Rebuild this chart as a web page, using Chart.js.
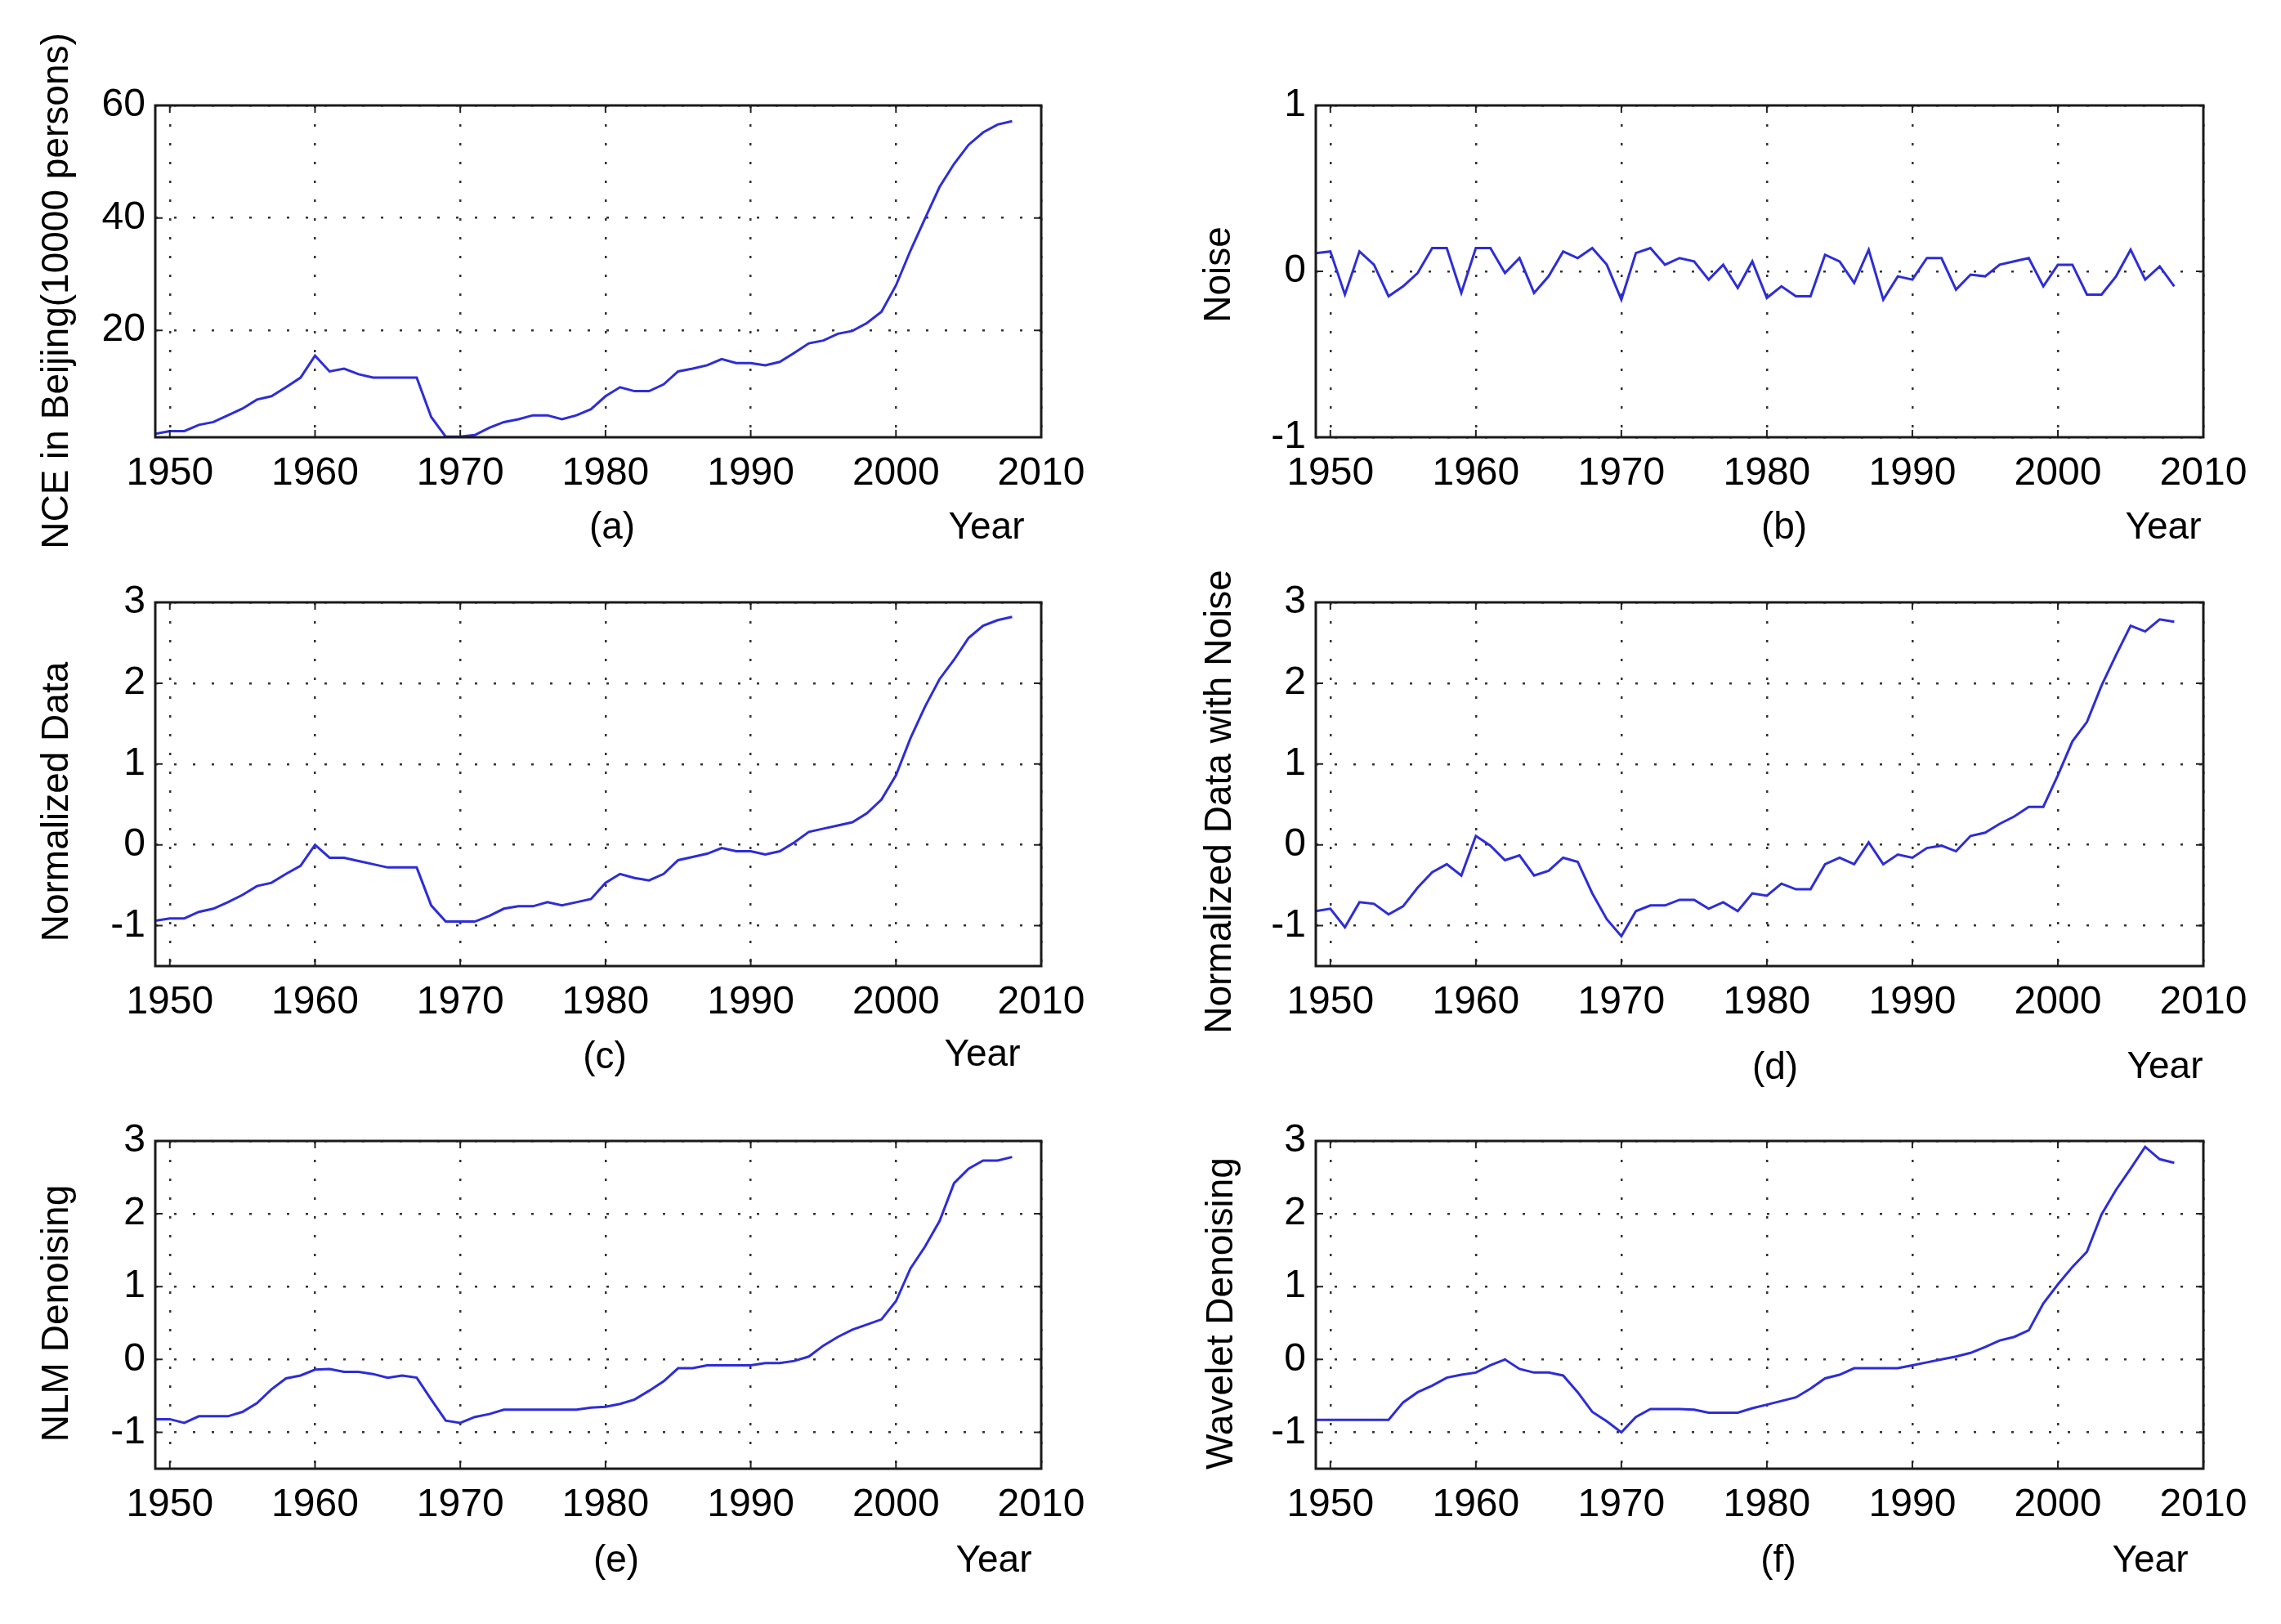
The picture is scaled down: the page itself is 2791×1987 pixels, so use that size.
<!DOCTYPE html>
<html lang="en">
<head>
<meta charset="UTF-8">
<title>NCE in Beijing - denoising</title>
<script src="https://cdn.jsdelivr.net/npm/chart.js@4.4.1/dist/chart.umd.min.js"></script>
<style>
  html, body { margin: 0; padding: 0; background: #fff; }
  #page { position: relative; width: 2791px; height: 1987px; }
  canvas { position: absolute; }
</style>
</head>
<body>
<div id="page">
  <canvas id="pa" width="1400" height="680" style="left:0;top:0"></canvas>
  <canvas id="pb" width="1391" height="680" style="left:1400px;top:0"></canvas>
  <canvas id="pc" width="1400" height="650" style="left:0;top:680px"></canvas>
  <canvas id="pd" width="1391" height="650" style="left:1400px;top:680px"></canvas>
  <canvas id="pe" width="1400" height="657" style="left:0;top:1330px"></canvas>
  <canvas id="pf" width="1391" height="657" style="left:1400px;top:1330px"></canvas>
</div>
<script>
const years = [1949, 1950, 1951, 1952, 1953, 1954, 1955, 1956, 1957, 1958,
               1959, 1960, 1961, 1962, 1963, 1964, 1965, 1966, 1967, 1968,
               1969, 1970, 1971, 1972, 1973, 1974, 1975, 1976, 1977, 1978,
               1979, 1980, 1981, 1982, 1983, 1984, 1985, 1986, 1987, 1988,
               1989, 1990, 1991, 1992, 1993, 1994, 1995, 1996, 1997, 1998,
               1999, 2000, 2001, 2002, 2003, 2004, 2005, 2006, 2007, 2008];

// (a) NCE in Beijing, 10000 persons
const nce = [1.6, 2.1, 2.1, 3.2, 3.7, 4.9, 6.1, 7.7, 8.3, 9.9,
             11.6, 15.5, 12.7, 13.2, 12.2, 11.6, 11.6, 11.6, 11.6, 4.6,
             1.1, 1.1, 1.4, 2.7, 3.7, 4.2, 4.9, 4.9, 4.2, 4.9,
             6.0, 8.3, 9.9, 9.2, 9.2, 10.4, 12.7, 13.2, 13.8, 14.9,
             14.2, 14.2, 13.8, 14.4, 16.0, 17.7, 18.2, 19.4, 19.9, 21.3,
             23.3, 28.0, 34.2, 39.9, 45.5, 49.6, 53.0, 55.2, 56.6, 57.2];

// (b) noise
const noise = [0.11, 0.12, -0.14, 0.12, 0.04, -0.15, -0.09, -0.01, 0.14, 0.14,
               -0.13, 0.14, 0.14, -0.01, 0.08, -0.13, -0.03, 0.12, 0.08, 0.14,
               0.04, -0.17, 0.11, 0.14, 0.04, 0.08, 0.06, -0.05, 0.04, -0.10,
               0.06, -0.16, -0.09, -0.15, -0.15, 0.10, 0.06, -0.07, 0.13, -0.17,
               -0.03, -0.05, 0.08, 0.08, -0.11, -0.02, -0.03, 0.04, 0.06, 0.08,
               -0.09, 0.04, 0.04, -0.14, -0.14, -0.03, 0.13, -0.05, 0.03, -0.09];

// (c) normalized data
const normalized = [-0.94, -0.91, -0.91, -0.83, -0.79, -0.71, -0.62, -0.51, -0.47, -0.36,
                    -0.26, 0.00, -0.16, -0.16, -0.20, -0.24, -0.28, -0.28, -0.28, -0.75,
                    -0.95, -0.95, -0.95, -0.88, -0.79, -0.76, -0.76, -0.71, -0.75, -0.71,
                    -0.67, -0.47, -0.36, -0.41, -0.44, -0.36, -0.19, -0.15, -0.11, -0.04,
                    -0.08, -0.08, -0.12, -0.08, 0.03, 0.16, 0.20, 0.24, 0.28, 0.39,
                    0.56, 0.86, 1.32, 1.71, 2.05, 2.29, 2.56, 2.71, 2.78, 2.82];

// (d) normalized data with noise
const withNoise = [-0.82, -0.79, -1.02, -0.71, -0.73, -0.86, -0.76, -0.53, -0.34, -0.24,
                   -0.38, 0.11, -0.01, -0.19, -0.13, -0.38, -0.32, -0.16, -0.21, -0.60,
                   -0.92, -1.13, -0.82, -0.75, -0.75, -0.68, -0.68, -0.79, -0.71, -0.82,
                   -0.60, -0.63, -0.48, -0.55, -0.55, -0.24, -0.16, -0.24, 0.03, -0.24,
                   -0.12, -0.16, -0.04, -0.01, -0.08, 0.11, 0.15, 0.26, 0.35, 0.47,
                   0.47, 0.86, 1.28, 1.52, 1.97, 2.35, 2.71, 2.64, 2.79, 2.76];

// (e) NLM denoising
const nlm = [-0.82, -0.82, -0.87, -0.78, -0.78, -0.78, -0.72, -0.60, -0.41, -0.26,
             -0.22, -0.14, -0.13, -0.17, -0.17, -0.20, -0.25, -0.22, -0.25, -0.55,
             -0.84, -0.87, -0.79, -0.75, -0.69, -0.69, -0.69, -0.69, -0.69, -0.69,
             -0.66, -0.65, -0.61, -0.55, -0.43, -0.30, -0.12, -0.12, -0.08, -0.08,
             -0.08, -0.08, -0.05, -0.05, -0.02, 0.04, 0.19, 0.31, 0.41, 0.48,
             0.55, 0.80, 1.25, 1.55, 1.90, 2.42, 2.62, 2.73, 2.73, 2.78];

// (f) wavelet denoising
const wavelet = [-0.83, -0.83, -0.83, -0.83, -0.83, -0.83, -0.59, -0.45, -0.36, -0.25,
                 -0.21, -0.18, -0.08, 0.00, -0.13, -0.18, -0.18, -0.22, -0.45, -0.72,
                 -0.85, -1.00, -0.79, -0.68, -0.68, -0.68, -0.69, -0.73, -0.73, -0.73,
                 -0.67, -0.62, -0.57, -0.52, -0.40, -0.26, -0.21, -0.12, -0.12, -0.12,
                 -0.12, -0.08, -0.04, 0.00, 0.04, 0.09, 0.17, 0.26, 0.31, 0.40,
                 0.77, 1.03, 1.27, 1.48, 1.99, 2.33, 2.62, 2.92, 2.75, 2.70];

const yearTicks = [1950, 1960, 1970, 1980, 1990, 2000, 2010];

const FONT = '"Liberation Sans", Arial, Helvetica, sans-serif';
const LINE_BLUE = 'rgb(45, 45, 215)';

// draws the MATLAB-like box, inward ticks, y label and the captions under each panel
const panelDeco = {
  id: 'panelDeco',
  afterDraw(chart, args, opts) {
    const { ctx, chartArea: a, scales } = chart;
    ctx.save();
    ctx.strokeStyle = '#222';
    ctx.lineWidth = 2;
    const tl = 9;
    ctx.beginPath();
    scales.x.ticks.forEach(t => {
      const px = scales.x.getPixelForValue(t.value);
      ctx.moveTo(px, a.bottom); ctx.lineTo(px, a.bottom - tl);
      ctx.moveTo(px, a.top); ctx.lineTo(px, a.top + tl);
    });
    scales.y.ticks.forEach(t => {
      const py = scales.y.getPixelForValue(t.value);
      ctx.moveTo(a.left, py); ctx.lineTo(a.left + tl, py);
      ctx.moveTo(a.right, py); ctx.lineTo(a.right - tl, py);
    });
    ctx.stroke();

    ctx.lineWidth = 3;
    ctx.strokeStyle = '#1a1a1a';
    ctx.strokeRect(a.left, a.top, a.right - a.left, a.bottom - a.top);

    ctx.fillStyle = '#000';
    ctx.textAlign = 'center';
    ctx.textBaseline = 'middle';
    ctx.font = '46px ' + FONT;
    ctx.fillText(opts.tag, opts.tagX, opts.tagY);
    ctx.fillText('Year', opts.yearX, opts.yearY);

    ctx.translate(opts.labelX, opts.labelY);
    ctx.rotate(-Math.PI / 2);
    ctx.fillText(opts.label, 0, 0);
    ctx.restore();
  }
};

function makePanel(id, values, cfg) {
  const points = years.map((yr, i) => ({ x: yr, y: values[i] }));
  new Chart(document.getElementById(id), {
    type: 'line',
    data: {
      datasets: [{
        data: points,
        borderColor: LINE_BLUE,
        borderWidth: 3,
        pointRadius: 0,
        tension: 0,
        fill: false
      }]
    },
    options: {
      responsive: false,
      animation: false,
      devicePixelRatio: 1,
      layout: { padding: { top: cfg.padTop, right: cfg.padRight, left: 0, bottom: 0 } },
      plugins: {
        legend: { display: false },
        tooltip: { enabled: false },
        panelDeco: cfg.deco
      },
      scales: {
        x: {
          type: 'linear',
          min: 1949,
          max: 2010,
          afterFit: s => { s.height = cfg.xHeight; },
          afterBuildTicks: s => { s.ticks = yearTicks.map(v => ({ value: v })); },
          grid: { color: '#333', lineWidth: 2.5, drawTicks: false },
          border: { display: false, dash: [3, 20] },
          ticks: {
            padding: 16,
            maxRotation: 0,
            autoSkip: false,
            color: '#000',
            font: { size: 48, family: FONT },
            callback: v => String(v)
          }
        },
        y: {
          min: cfg.yMin,
          max: cfg.yMax,
          afterFit: s => { s.width = cfg.yWidth; },
          afterBuildTicks: s => { s.ticks = cfg.yTicks.map(v => ({ value: v })); },
          grid: { color: '#333', lineWidth: 2.5, drawTicks: false },
          border: { display: false, dash: [3, 20] },
          ticks: {
            padding: 12,
            color: '#000',
            font: { size: 48, family: FONT },
            callback: v => String(v)
          }
        }
      }
    },
    plugins: [panelDeco]
  });
}

const normTicks = [-1, 0, 1, 2, 3];

makePanel('pa', nce, {
  yMin: 1, yMax: 60, yTicks: [20, 40, 60],
  padTop: 129, padRight: 126, yWidth: 190, xHeight: 145,
  deco: { tag: '(a)', tagX: 749, tagY: 646, yearX: 1207, yearY: 646,
          label: 'NCE in Beijing(10000 persons)', labelX: 70, labelY: 356 }
});
makePanel('pb', noise, {
  yMin: -1, yMax: 1, yTicks: [-1, 0, 1],
  padTop: 129, padRight: 95, yWidth: 210, xHeight: 145,
  deco: { tag: '(b)', tagX: 783, tagY: 646, yearX: 1247, yearY: 646,
          label: 'Noise', labelX: 92, labelY: 336 }
});
makePanel('pc', normalized, {
  yMin: -1.5, yMax: 3, yTicks: normTicks,
  padTop: 57, padRight: 126, yWidth: 190, xHeight: 148,
  deco: { tag: '(c)', tagX: 740, tagY: 614, yearX: 1202, yearY: 611,
          label: 'Normalized Data', labelX: 70, labelY: 301 }
});
makePanel('pd', withNoise, {
  yMin: -1.5, yMax: 3, yTicks: normTicks,
  padTop: 57, padRight: 95, yWidth: 210, xHeight: 148,
  deco: { tag: '(d)', tagX: 772, tagY: 627, yearX: 1249, yearY: 626,
          label: 'Normalized Data with Noise', labelX: 93, labelY: 301 }
});
makePanel('pe', nlm, {
  yMin: -1.5, yMax: 3, yTicks: normTicks,
  padTop: 66, padRight: 126, yWidth: 190, xHeight: 190,
  deco: { tag: '(e)', tagX: 754, tagY: 580, yearX: 1216, yearY: 580,
          label: 'NLM Denoising', labelX: 70, labelY: 277 }
});
makePanel('pf', wavelet, {
  yMin: -1.5, yMax: 3, yTicks: normTicks,
  padTop: 66, padRight: 95, yWidth: 210, xHeight: 190,
  deco: { tag: '(f)', tagX: 776, tagY: 580, yearX: 1231, yearY: 580,
          label: 'Wavelet Denoising', labelX: 95, labelY: 277 }
});
</script>
</body>
</html>
